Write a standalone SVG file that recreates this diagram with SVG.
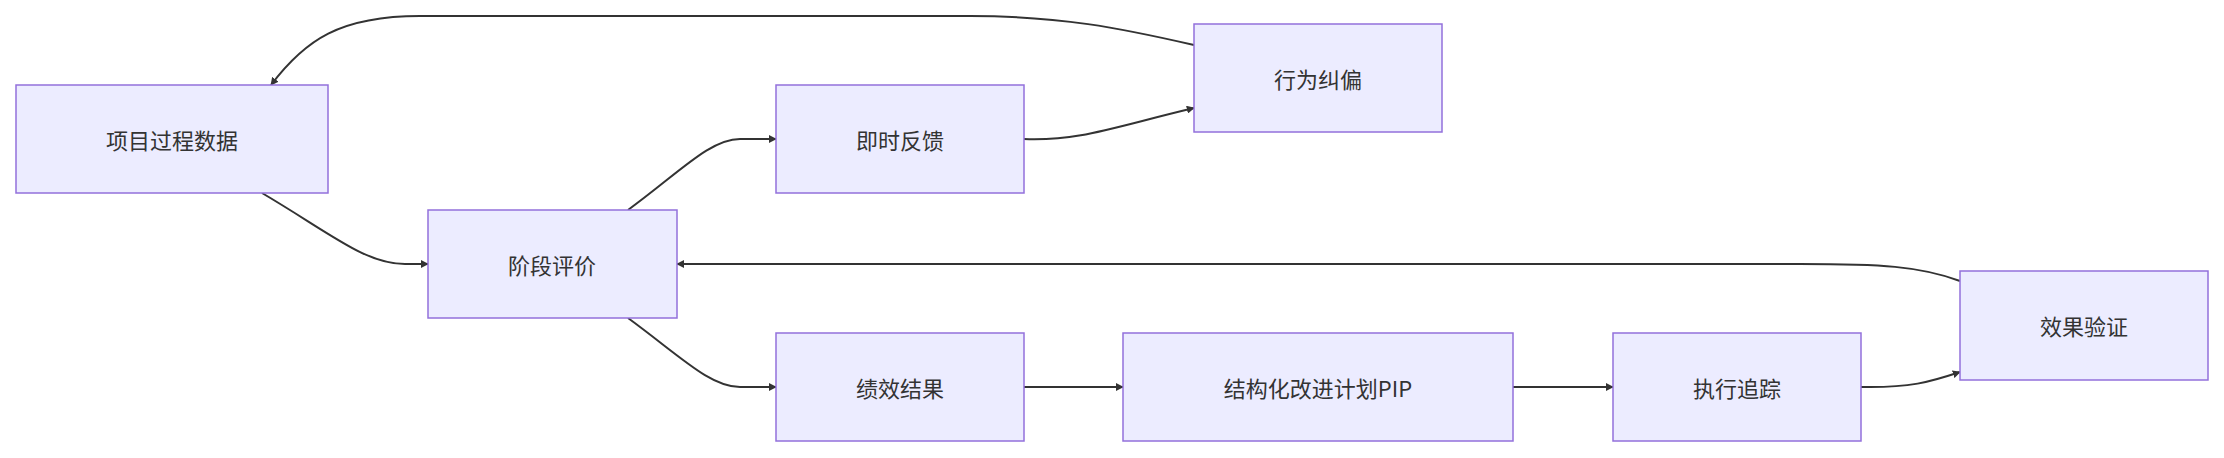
<svg xmlns="http://www.w3.org/2000/svg" width="2224" height="458" viewBox="0 0 2224 458">
<style>
.n rect{fill:#ECECFF;stroke:#9370DB;stroke-width:1.5}
.n text{font-family:"Noto Sans CJK SC","Liberation Sans",sans-serif;font-size:22px;fill:#333;text-anchor:middle;dominant-baseline:central}
.e path{fill:none;stroke:#333;stroke-width:2;marker-end:url(#a)}
</style>
<defs><marker id="a" viewBox="0 0 10 10" refX="9" refY="5" markerWidth="8" markerHeight="8" markerUnits="userSpaceOnUse" orient="auto"><path d="M0,0 L10,5 L0,10 z" fill="#333"/></marker>
</defs>
<rect width="2224" height="458" fill="#fff"/>
<g class="e">
<path d="M262,193 C330,233 365,264 405,264 L428,264"/>
<path d="M628,210 C680,172 710,139 740,139 L776,139"/>
<path d="M1024,139 C1080,141 1110,128 1194,108"/>
<path d="M1194,45 C1120,28 1060,16 970,16 L420,16 C340,16 305,40 271,85"/>
<path d="M628,318 C680,356 710,387 740,387 L776,387"/>
<path d="M1024,387 L1123,387"/>
<path d="M1513,387 L1613,387"/>
<path d="M1861,387 C1910,388 1930,382 1960,372"/>
<path d="M1960,281 C1920,266 1880,264 1800,264 L677,264"/>
</g>
<g class="n" id="n1"><rect x="16" y="85" width="312" height="108"/><text x="172" y="139">项目过程数据</text></g>
<g class="n" id="n2"><rect x="428" y="210" width="249" height="108"/><text x="552" y="264">阶段评价</text></g>
<g class="n" id="n3"><rect x="776" y="85" width="248" height="108"/><text x="900" y="139">即时反馈</text></g>
<g class="n" id="n4"><rect x="1194" y="24" width="248" height="108"/><text x="1318" y="78">行为纠偏</text></g>
<g class="n" id="n5"><rect x="776" y="333" width="248" height="108"/><text x="900" y="387">绩效结果</text></g>
<g class="n" id="n6"><rect x="1123" y="333" width="390" height="108"/><text x="1318" y="387">结构化改进计划PIP</text></g>
<g class="n" id="n7"><rect x="1613" y="333" width="248" height="108"/><text x="1737" y="387">执行追踪</text></g>
<g class="n" id="n8"><rect x="1960" y="271" width="248" height="109"/><text x="2084" y="325">效果验证</text></g>
</svg>
